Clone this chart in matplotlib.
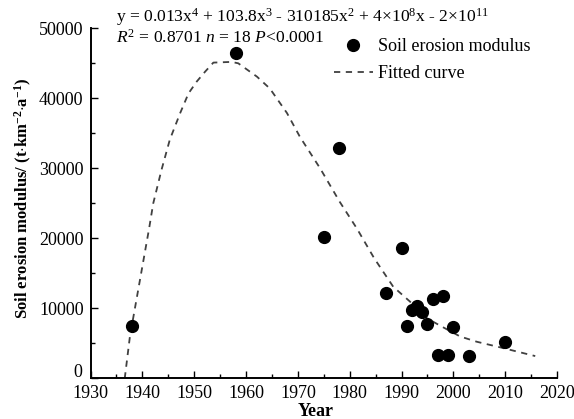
import matplotlib
matplotlib.use("Agg")
import matplotlib.pyplot as plt
from matplotlib.ticker import MultipleLocator, FuncFormatter

plt.rcParams['font.family'] = ['Liberation Serif', 'DejaVu Serif']
plt.rcParams['mathtext.fontset'] = 'custom'
plt.rcParams['mathtext.rm'] = 'Liberation Serif'
plt.rcParams['mathtext.it'] = 'Liberation Serif:italic'
plt.rcParams['mathtext.bf'] = 'Liberation Serif:bold'
plt.rcParams['lines.scale_dashes'] = False

# observed soil erosion modulus
years = [1938, 1958, 1975, 1978, 1987, 1990, 1991, 1992, 1993, 1994,
         1995, 1996, 1997, 1998, 1999, 2000, 2003, 2010]
modulus = [7550, 46400, 20150, 32950, 12200, 18600, 7500, 9800, 10400, 9450,
           7850, 11400, 3400, 11750, 3400, 7300, 3150, 5150]

# fitted curve
fit_years = [1936.6, 1937.6, 1941.3, 1942.1, 1943.7, 1945.3, 1947.3, 1948.9,
             1950.5, 1952.1, 1953.7, 1957.2, 1958.5, 1962.1, 1964.6, 1967.9,
             1970.4, 1974.3, 1978.1, 1981.4, 1984.7, 1988.4, 1991.6, 1994.9,
             1997.8, 2001.3, 2004.5, 2009.0, 2015.8]
fit_vals = [0, 6000, 21400, 25000, 29800, 34100, 37900, 40700,
            42400, 43800, 45100, 45200, 45000, 43100, 41400, 37900,
            34500, 30000, 25200, 21400, 17200, 13100, 11000, 8600,
            7400, 6000, 5250, 4450, 3200]

fig = plt.figure(figsize=(5.74, 4.19), dpi=100)
ax = fig.add_axes([0.1577, 0.0967, 0.8127, 0.8358])

ax.plot(fit_years, fit_vals, linestyle='--', dashes=(4.5, 4), color='#404040',
        lw=1.3, label='Fitted curve')
ax.plot(years, modulus, 'o', color='black', markersize=8.5, linestyle='none',
        label='Soil erosion modulus', clip_on=False)

ax.set_xlim(1930, 2020)
ax.set_ylim(0, 50000)
ax.xaxis.set_major_locator(MultipleLocator(10))
ax.xaxis.set_minor_locator(MultipleLocator(5))
ax.yaxis.set_major_locator(MultipleLocator(10000))
ax.yaxis.set_minor_locator(MultipleLocator(5000))
# zero is written separately, a little above the axis as in the original
ax.yaxis.set_major_formatter(FuncFormatter(lambda v, p: '' if v == 0 else '%d' % v))
ax.tick_params(which='both', direction='in', labelsize=13, width=1.0)
ax.tick_params(axis='x', pad=5)
ax.tick_params(axis='y', pad=5)
ax.tick_params(which='major', length=5)
ax.tick_params(which='minor', length=3)
for s in ['top', 'right']:
    ax.spines[s].set_visible(False)
for s in ['left', 'bottom']:
    ax.spines[s].set_linewidth(1.4)

ax.annotate('0', xy=(0, 0), xycoords='axes fraction', xytext=(-6, 4.3),
            textcoords='offset points', ha='right', va='center', fontsize=13)

ax.set_xlabel('Year', fontsize=13, fontweight='bold')
ax.xaxis.set_label_coords(0.482, -0.07)
ax.set_ylabel(r'Soil erosion modulus/ (t$\cdot$km$^{\mathbf{-2}}$$\cdot$a$^{\mathbf{-1}}$)',
              fontsize=12, fontweight='bold')
ax.yaxis.set_label_coords(-0.122, 0.515)

fig.text(116 / 574, 1 - 17 / 419,
         r'y = 0.013x$^{4}$ + 103.8x$^{3}$ - 310185x$^{2}$ + 4$\times$10$^{8}$x - 2$\times$10$^{11}$',
         fontsize=12.6, va='center')
fig.text(116 / 574, 1 - 38 / 419, r'$R^{2}$ = 0.8701 $n$ = 18 $P$<0.0001',
         fontsize=12.6, va='center')

handles, labels = ax.get_legend_handles_labels()
ax.legend(handles[::-1], labels[::-1], loc='upper left', frameon=False,
          fontsize=13, bbox_to_anchor=(334 / 574, 1 - 38 / 419),
          bbox_transform=fig.transFigure, borderpad=0, borderaxespad=0,
          handlelength=2.15, handletextpad=0.3, labelspacing=0.55)

fig.savefig('out.png', dpi=100)
